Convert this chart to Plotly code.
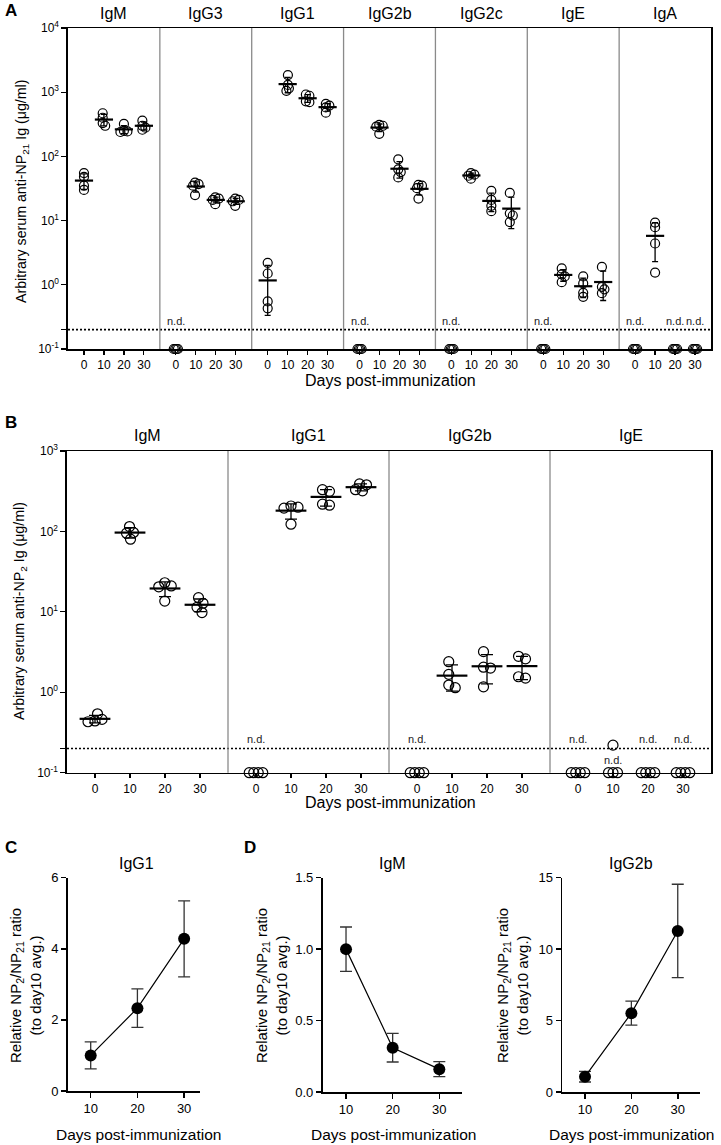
import math
import numpy as np
import plotly.graph_objects as go

# ---------------- data ----------------
ND = 0.1      # value at which "not detected" samples are drawn
LOD = 0.2     # detection limit (dotted line)
DAYS = [0, 10, 20, 30]
DAY_LABELS = ["0", "10", "20", "30"]

# Panel A: anti-NP21 (ug/ml), per isotype: [day0, day10, day20, day30] x 4 mice
A_ISOTYPES = ["IgM", "IgG3", "IgG1", "IgG2b", "IgG2c", "IgE", "IgA"]
A_IgM = [[55, 48, 35, 30], [470, 400, 330, 300], [320, 250, 245, 240], [360, 300, 280, 260]]
A_IgG3 = [[ND, ND, ND, ND], [39, 37, 35, 25], [23, 22, 21, 18], [22, 21, 20, 17]]
A_IgG1 = [[2.2, 1.5, 0.55, 0.43], [1850, 1300, 1150, 1050], [920, 880, 720, 700], [660, 620, 580, 480]]
A_IgG2b = [[ND, ND, ND, ND], [310, 300, 290, 225], [90, 63, 57, 47], [36, 35, 32, 22]]
A_IgG2c = [[ND, ND, ND, ND], [55, 52, 50, 45], [29, 21, 17, 14], [27, 13, 12, 9.5]]
A_IgE = [[ND, ND, ND, ND], [1.8, 1.45, 1.35, 1.1], [1.35, 1.05, 0.75, 0.65], [1.9, 0.93, 0.85, 0.74]]
A_IgA = [[ND, ND, ND, ND], [9.3, 7.9, 4.4, 1.55], [ND, ND, ND, ND], [ND, ND, ND, ND]]

# Panel B: anti-NP2 (ug/ml)
B_ISOTYPES = ["IgM", "IgG1", "IgG2b", "IgE"]
B_IgM = [[0.54, 0.46, 0.44, 0.43], [115, 97, 95, 80], [23, 21, 20.5, 13.6], [15, 12.8, 11.4, 9.8]]
B_IgG1 = [[ND, ND, ND, ND], [207, 200, 195, 123], [330, 315, 218, 212], [390, 380, 330, 320]]
B_IgG2b = [[ND, ND, ND, ND], [2.4, 1.67, 1.23, 1.14], [3.2, 2.05, 2.0, 1.17], [2.8, 2.6, 1.56, 1.5]]
B_IgE = [[ND, ND, ND, ND], [0.22, ND, ND, ND], [ND, ND, ND, ND], [ND, ND, ND, ND]]

# Panels C / D: relative NP2/NP21 ratio (mean, SD)
CD_DAYS = [10, 20, 30]
C_IgG1_mean = [1.0, 2.33, 4.28]
C_IgG1_sd = [0.38, 0.54, 1.07]
D_IgM_mean = [1.0, 0.31, 0.16]
D_IgM_sd = [0.155, 0.10, 0.053]
D_IgG2b_mean = [1.07, 5.52, 11.27]
D_IgG2b_sd = [0.37, 0.84, 3.27]

# ---------------- helpers ----------------
W_PX, H_PX = 721, 1145
FONT = "Arial, 'Liberation Sans', Helvetica, sans-serif"
GW = 4.6
POS = [0.8, 1.8, 2.8, 3.8]


def px(x):
    return x / W_PX


def py(y):
    return 1 - y / H_PX


def swarm_offsets(vals, dec_px, unit_px, min_d, nd_step):
    n = len(vals)
    offs = [0.0] * n
    nd_idx = [i for i, v in enumerate(vals) if v <= ND]
    for k, i in enumerate(nd_idx):
        offs[i] = (k - (len(nd_idx) - 1) / 2) * nd_step
    det = [i for i, v in enumerate(vals) if v > ND]
    ys = {i: math.log10(vals[i]) * dec_px for i in det}
    placed = []
    for i in sorted(det, key=lambda j: -vals[j]):
        best = None
        s = 0.0
        while best is None:
            for cand in ([s, -s] if s > 0 else [0.0]):
                if all((cand - ox) ** 2 + (ys[i] - oy) ** 2 >= min_d ** 2 for ox, oy in placed):
                    best = cand
                    break
            s += 0.5
        placed.append((best, ys[i]))
        offs[i] = best
    if det and not nd_idx:
        xs = [offs[i] for i in det]
        c = (max(xs) + min(xs)) / 2
        for i in det:
            offs[i] -= c
    return [o / unit_px for o in offs]


fig = go.Figure()
annotations = []
shapes = []


def scatter_panel(groups, names, xa, ya, dec_px, unit_px, msize, min_d, nd_step,
                  mean_w, cap_w, title_y, nd_font):
    ngrp = len(groups)
    for g, series in enumerate(groups):
        for d, vals in enumerate(series):
            x0 = g * GW + POS[d]
            offs = swarm_offsets(vals, dec_px, unit_px, min_d, nd_step)
            fig.add_trace(go.Scatter(
                x=[x0 + o for o in offs], y=vals, mode="markers",
                marker=dict(symbol="circle-open", size=msize, color="black",
                            line=dict(width=1.2, color="black")),
                xaxis=xa, yaxis=ya, cliponaxis=False, showlegend=False, hoverinfo="skip"))
            if all(v > ND for v in vals):
                m = float(np.mean(vals))
                sd = float(np.std(vals, ddof=1))
                fig.add_trace(go.Scatter(
                    x=[x0], y=[m], mode="markers",
                    marker=dict(symbol="line-ew", size=mean_w, color="black",
                                line=dict(width=2.2, color="black")),
                    error_y=dict(type="data", array=[sd], width=cap_w, thickness=1.3, color="black"),
                    xaxis=xa, yaxis=ya, cliponaxis=False, showlegend=False, hoverinfo="skip"))
            elif all(v <= ND for v in vals):
                annotations.append(dict(x=x0, y=math.log10(LOD), xref=xa, yref=ya,
                                         text="n.d.", showarrow=False, yanchor="bottom",
                                         xanchor="center", yshift=1,
                                         font=dict(size=nd_font, color="#222")))
            else:
                annotations.append(dict(x=x0, y=math.log10(ND), xref=xa, yref=ya,
                                         text="n.d.", showarrow=False, yanchor="bottom",
                                         xanchor="center", yshift=5,
                                         font=dict(size=nd_font, color="#222")))
        annotations.append(dict(x=g * GW + GW / 2, y=title_y, xref=xa, yref="paper",
                                 text=names[g], showarrow=False, yanchor="middle",
                                 xanchor="center", font=dict(size=16, color="black")))
        if g > 0:
            shapes.append(dict(type="line", xref=xa, yref=ya + " domain",
                               x0=g * GW, x1=g * GW, y0=0, y1=1,
                               line=dict(color="#8a8a8a", width=1.3)))
    fig.add_trace(go.Scatter(x=[0, ngrp * GW], y=[LOD, LOD], mode="lines",
                             line=dict(color="black", width=1.6, dash="2px,2px"),
                             xaxis=xa, yaxis=ya, showlegend=False, hoverinfo="skip"))


A_groups = [A_IgM, A_IgG3, A_IgG1, A_IgG2b, A_IgG2c, A_IgE, A_IgA]
B_groups = [B_IgM, B_IgG1, B_IgG2b, B_IgE]

scatter_panel(A_groups, A_ISOTYPES, "x", "y", 64.2, 20.0, 9, 3.5, 1.4, 13, 3, py(14), 11)
scatter_panel(B_groups, B_ISOTYPES, "x2", "y2", 80.4, 35.0, 10, 7.0, 4.5, 22, 6, py(435), 11)


def line_panel(mean, sd, xa, ya):
    fig.add_trace(go.Scatter(
        x=CD_DAYS, y=mean, mode="lines+markers",
        line=dict(color="black", width=1.2),
        marker=dict(symbol="circle", size=12, color="black"),
        error_y=dict(type="data", array=sd, width=6, thickness=1.3, color="#333"),
        xaxis=xa, yaxis=ya, cliponaxis=False, showlegend=False, hoverinfo="skip"))


line_panel(C_IgG1_mean, C_IgG1_sd, "x3", "y3")
line_panel(D_IgM_mean, D_IgM_sd, "x4", "y4")
line_panel(D_IgG2b_mean, D_IgG2b_sd, "x5", "y5")

# ---------------- axes ----------------
common = dict(showgrid=False, zeroline=False, showline=True, linecolor="black",
              automargin=False, ticks="outside", tickcolor="black",
              tickfont=dict(size=12, color="black"))
cd_font = dict(size=13, color="black")

A_tickvals = [g * GW + p for g in range(len(A_groups)) for p in POS]
B_tickvals = [g * GW + p for g in range(len(B_groups)) for p in POS]

log_vals_A = [0.1, 0.2, 1, 10, 100, 1000, 10000]
log_text_A = ["10<sup>-1</sup>", "", "10<sup>0</sup>", "10<sup>1</sup>", "10<sup>2</sup>",
              "10<sup>3</sup>", "10<sup>4</sup>"]
log_vals_B = [0.1, 0.2, 1, 10, 100, 1000]
log_text_B = ["10<sup>-1</sup>", "", "10<sup>0</sup>", "10<sup>1</sup>", "10<sup>2</sup>",
              "10<sup>3</sup>"]

fig.update_layout(
    template="none",
    xaxis=dict(common, domain=[px(68), px(711)], range=[0, len(A_groups) * GW],
               tickvals=A_tickvals, ticktext=DAY_LABELS * len(A_groups),
               ticklen=4, tickwidth=1.2, linewidth=1.5, mirror=True, anchor="y"),
    yaxis=dict(common, type="log", domain=[py(349), py(28)], range=[-1, 4],
               tickvals=log_vals_A, ticktext=log_text_A, ticklen=5, tickwidth=1.2,
               linewidth=1.6, mirror=True, anchor="x"),
    xaxis2=dict(common, domain=[px(67), px(711)], range=[0, len(B_groups) * GW],
                tickvals=B_tickvals, ticktext=DAY_LABELS * len(B_groups),
                ticklen=4, tickwidth=1.2, linewidth=1.5, mirror=True, anchor="y2"),
    yaxis2=dict(common, type="log", domain=[py(772.7), py(451)], range=[-1, 3],
                tickvals=log_vals_B, ticktext=log_text_B, ticklen=5, tickwidth=1.2,
                linewidth=1.6, mirror=True, anchor="x2"),
    xaxis3=dict(common, domain=[px(68), px(200)], range=[5.14, 33.4], tickvals=CD_DAYS,
                ticklen=5, tickwidth=1.5, linewidth=1.8, anchor="y3", tickfont=cd_font),
    yaxis3=dict(common, domain=[py(1091), py(877.7)], range=[0, 6], tickvals=[0, 2, 4, 6],
                ticklen=5, tickwidth=1.5, linewidth=1.8, anchor="x3", tickfont=cd_font),
    xaxis4=dict(common, domain=[px(322.7), px(461.7)], range=[5.0, 34.8], tickvals=CD_DAYS,
                ticklen=5, tickwidth=1.5, linewidth=1.8, anchor="y4", tickfont=cd_font),
    yaxis4=dict(common, domain=[py(1092), py(877.7)], range=[0, 1.5],
                tickvals=[0, 0.5, 1.0, 1.5], ticktext=["0.0", "0.5", "1.0", "1.5"],
                ticklen=5, tickwidth=1.5, linewidth=1.8, anchor="x4", tickfont=cd_font),
    xaxis5=dict(common, domain=[px(562.3), px(700)], range=[5.1, 34.8], tickvals=CD_DAYS,
                ticklen=5, tickwidth=1.5, linewidth=1.8, anchor="y5", tickfont=cd_font),
    yaxis5=dict(common, domain=[py(1092), py(877.7)], range=[0, 15],
                tickvals=[0, 5, 10, 15], ticklen=5, tickwidth=1.5, linewidth=1.8, anchor="x5",
                tickfont=cd_font),
)


# ---------------- text ----------------
def txt(x, y, text, size, angle=0, bold=False):
    annotations.append(dict(x=px(x), y=py(y), xref="paper", yref="paper", text=text,
                            showarrow=False, textangle=angle,
                            font=dict(size=size, color="black",
                                      weight="bold" if bold else "normal"),
                            xanchor="center", yanchor="middle"))


txt(11, 11, "A", 17, bold=True)
txt(11, 422, "B", 17, bold=True)
txt(11, 847, "C", 17, bold=True)
txt(250, 847, "D", 17, bold=True)

txt(22, 192, "Arbitrary serum anti-NP<sub>21</sub> Ig (μg/ml)", 14.2, angle=-90)
txt(20, 611, "Arbitrary serum anti-NP<sub>2</sub> Ig (μg/ml)", 14.2, angle=-90)
txt(390, 381, "Days post-immunization", 16)
txt(390, 803, "Days post-immunization", 16)

txt(136, 863, "IgG1", 16)
txt(392, 863, "IgM", 16)
txt(631, 863, "IgG2b", 16)

ytitle = "Relative NP<sub>2</sub>/NP<sub>21</sub> ratio<br>(to day10 avg.)"
txt(25, 986, ytitle, 15, angle=-90)
txt(271, 986, ytitle, 15, angle=-90)
txt(512, 986, ytitle, 15, angle=-90)

txt(138, 1134, "Days post-immunization", 15.5)
txt(393, 1134, "Days post-immunization", 15.5)
txt(631, 1134, "Days post-immunization", 15.5)

fig.update_layout(
    width=W_PX, height=H_PX, autosize=False,
    margin=dict(l=0, r=0, t=0, b=0, pad=0),
    paper_bgcolor="white", plot_bgcolor="white",
    font=dict(family=FONT, color="black", size=12),
    showlegend=False,
    annotations=annotations, shapes=shapes,
)

fig.write_html(
    "out.html",
    config={"displayModeBar": False, "staticPlot": True},
    post_script="document.body.style.margin='0';document.body.style.padding='0';",
)
